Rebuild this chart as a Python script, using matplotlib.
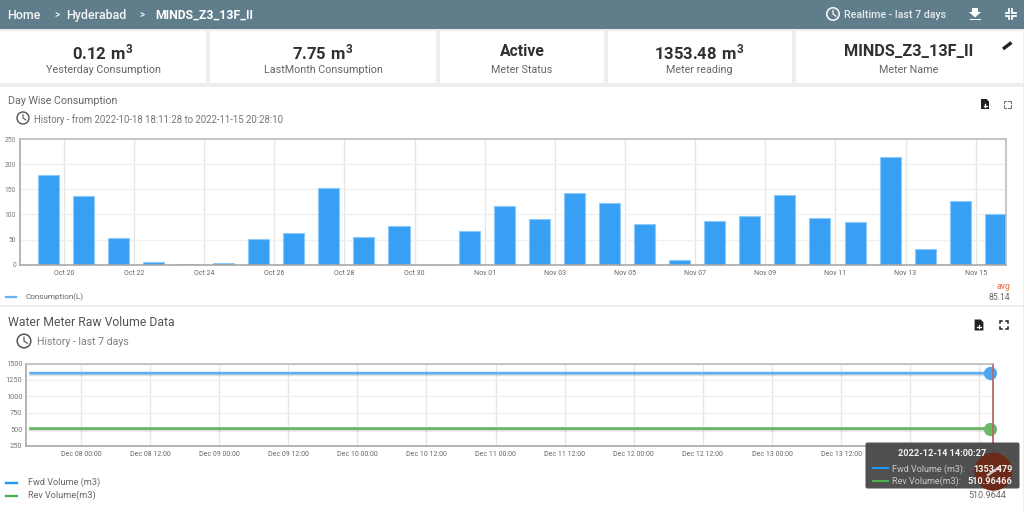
import matplotlib
matplotlib.use("Agg")
import matplotlib.pyplot as plt
import matplotlib.dates as mdates
import matplotlib.patheffects as pe
from matplotlib.patches import Rectangle, Circle, FancyBboxPatch, Polygon
import pandas as pd

plt.rcParams['font.family'] = ['Roboto', 'DejaVu Sans']
plt.rcParams['mathtext.fontset'] = 'custom'
plt.rcParams['mathtext.bf'] = 'Roboto:bold'
plt.rcParams['mathtext.rm'] = 'Roboto'

# ---------- data ----------
crumbs = ["Home", ">", "Hyderabad", ">", "MINDS_Z3_13F_II"]
card_values = [r"$\mathbf{0.12\ m^3}$", r"$\mathbf{7.75\ m^3}$", "Active",
               r"$\mathbf{1353.48\ m^3}$", "MINDS_Z3_13F_II"]
card_labels = ["Yesterday Consumption", "LastMonth Consumption", "Meter Status",
               "Meter reading", "Meter Name"]

day_dates = ["2022-10-19", "2022-10-20", "2022-10-21", "2022-10-22", "2022-10-23", "2022-10-24", "2022-10-25",
             "2022-10-26", "2022-10-27", "2022-10-28", "2022-10-29", "2022-10-30", "2022-10-31", "2022-11-01",
             "2022-11-02", "2022-11-03", "2022-11-04", "2022-11-05", "2022-11-06", "2022-11-07", "2022-11-08",
             "2022-11-09", "2022-11-10", "2022-11-11", "2022-11-12", "2022-11-13", "2022-11-14", "2022-11-15"]
consumption = [179, 137, 54, 5, 1.5, 4, 52, 63, 152, 56, 77, 0, 68, 117,
               91, 143, 122, 81, 10, 86, 96, 139, 93, 84, 214, 32, 127, 101]
day_ticks = ["2022-10-20", "2022-10-22", "2022-10-24", "2022-10-26", "2022-10-28", "2022-10-30", "2022-11-01",
             "2022-11-03", "2022-11-05", "2022-11-07", "2022-11-09", "2022-11-11", "2022-11-13", "2022-11-15"]

raw_times = ["2022-12-07 15:00", "2022-12-09 00:00", "2022-12-11 00:00", "2022-12-13 00:00", "2022-12-14 13:50"]
fwd_volume = [1353.1, 1353.2, 1353.3, 1353.4, 1353.479]
rev_volume = [510.96, 510.96, 510.96, 510.96, 510.96466]
raw_ticks = pd.date_range("2022-12-08 00:00", "2022-12-14 12:00", freq="12h")

W, H = 1024, 512
fig = plt.figure(figsize=(W / 100, H / 100), dpi=100, facecolor="#eeeeee")

def px_axes(x0, y_top, x1, y_bot, **kw):
    return fig.add_axes([x0 / W, 1 - y_bot / H, (x1 - x0) / W, (y_bot - y_top) / H], **kw)

# background layer / overlay layer in pixel coordinates
bg = px_axes(0, 0, W, H, zorder=0)
fg = px_axes(0, 0, W, H, zorder=5)
for a in (bg, fg):
    a.set_xlim(0, W); a.set_ylim(H, 0); a.axis("off")
fg.patch.set_alpha(0)

def rect(a, x0, y0, x1, y1, c, **kw):
    a.add_patch(Rectangle((x0, y0), x1 - x0, y1 - y0, fc=c, ec="none", **kw))

# header, cards, panels
rect(bg, 0, 0, W, 29, "#607d8b")
for x0, x1 in [(0, 206), (210, 436), (440, 604), (607.5, 792), (796, 1023)]:
    rect(bg, x0, 31, x1, 83, "white")
rect(bg, 0, 87, 1023, 305, "white")
rect(bg, 0, 307, 1023, H, "white")

def clock(a, cx, cy, r, c, lw=1.1):
    a.add_patch(Circle((cx, cy), r, fc="none", ec=c, lw=lw))
    a.plot([cx, cx, cx + r * .5], [cy - r * .6, cy, cy + r * .35], color=c, lw=lw * .8, solid_capstyle="round")

def txt(x, y, s, px, c="#555555", ha="left", w="normal", **kw):
    fg.text(x, y, s, fontsize=px * .72, color=c, ha=ha, va="center_baseline", fontweight=w, **kw)

# breadcrumbs
for x, s, px, wt in zip([7, 54, 66, 139, 155], crumbs, [12.5, 10, 12.5, 10, 12.3],
                        ["medium", "medium", "medium", "medium", "bold"]):
    txt(x, 14, s, px, "#f4f6f7" if wt != "bold" else "white", w=wt)
clock(fg, 833, 14, 6.2, "#f2f4f5", 1.2)
txt(844, 14, "Realtime - last 7 days", 10.6, "#e6eaec", w="medium")
# download icon
fg.add_patch(Polygon([[972, 8], [978, 8], [978, 12], [981, 12], [975, 17.5], [969, 12], [972, 12]], fc="white", ec="none"))
rect(fg, 969.5, 18.5, 980.5, 20, "white")
# fullscreen-exit icon
for sx, sy in [(-1, -1), (1, -1), (-1, 1), (1, 1)]:
    cx, cy = 1010.5 + sx * 1.5, 14 + sy * 1.5
    fg.plot([cx + sx * 3.5, cx, cx], [cy, cy, cy + sy * 3.5], color="white", lw=1.3, solid_joinstyle="miter")

# cards
for cx, s, lab, px in zip([103, 323, 522, 699, 908.5], card_values, card_labels, [16.6, 16.6, 15.8, 16.6, 16.2]):
    txt(cx, 50.5, s, px, "#303030", ha="center", w="bold")
    txt(cx, 69, lab, 10.8, "#666666", ha="center")
# pencil
fg.plot([1003, 1011.5], [49, 42.5], color="#222222", lw=2.4, solid_capstyle="butt")

# titles
txt(8, 100.5, "Day Wise Consumption", 10.6, "#666666")
clock(fg, 23, 118, 6, "#555555", 1.0)
txt(34, 118.5, "History - from 2022-10-18 18:11:28 to 2022-11-15 20:28:10", 9.6, "#777777")
txt(8, 321.5, "Water Meter Raw Volume Data", 12.3, "#555555")
clock(fg, 24, 341, 6.8, "#555555", 1.1)
txt(37, 341, "History - last 7 days", 10.5, "#808080")

def save_icon(cx, cy, s):
    fg.add_patch(Polygon([[cx - 4 * s, cy - 5 * s], [cx + 1.5 * s, cy - 5 * s], [cx + 4 * s, cy - 2.5 * s],
                          [cx + 4 * s, cy + 5 * s], [cx - 4 * s, cy + 5 * s]], fc="#222222", ec="none"))
    fg.plot([cx - 1.5 * s, cx + 1.5 * s], [cy + 1.5 * s, cy + 1.5 * s], color="white", lw=.9)
    fg.plot([cx, cx], [cy, cy + 3 * s], color="white", lw=.9)

def focus_icon(cx, cy, r, c, lw):
    for sx, sy in [(-1, -1), (1, -1), (-1, 1), (1, 1)]:
        fg.plot([cx + sx * r * .4, cx + sx * r, cx + sx * r], [cy + sy * r, cy + sy * r, cy + sy * r * .4], color=c, lw=lw,
                solid_joinstyle="miter")

save_icon(985, 104, 1)
focus_icon(1007, 104, 3.5, "#777777", .8)
save_icon(979, 325, 1.1)
focus_icon(1004, 325, 4, "#222222", 1.1)

# ---------- chart 1 ----------
def style(ax, ysize, xsize):
    ax.set_axisbelow(True)
    ax.grid(axis="x", color="#e6e6e6", lw=1)
    ax.grid(axis="y", color="#f0f0f0", lw=1)
    ax.tick_params(length=0)
    ax.tick_params(axis="y", labelsize=ysize, labelcolor="#777777", pad=2.8)
    ax.tick_params(axis="x", labelsize=xsize, labelcolor="#666666", pad=3.8)
    for k, s in ax.spines.items():
        s.set_color("#a8a8a8" if k in ("left", "bottom") else "#bdbdbd")
        s.set_linewidth(1.2)

ax1 = px_axes(20, 139, 1006, 264.7, zorder=2)
d = pd.to_datetime(day_dates) + pd.Timedelta(hours=13.4)
ax1.bar(d, consumption, width=0.6, color="#2196f3", alpha=.9, edgecolor="#8ccafa", linewidth=.8)
ax1.set_xlim(mdates.date2num(pd.Timestamp("2022-10-20")) - (63.7 - 20) / 35.08,
             mdates.date2num(pd.Timestamp("2022-10-20")) + (1006 - 63.7) / 35.08)
ax1.set_ylim(0, 250)
ax1.set_yticks([0, 50, 100, 150, 200, 250])
ax1.set_xticks(pd.to_datetime(day_ticks))
ax1.xaxis.set_major_formatter(mdates.DateFormatter("%b %d"))
style(ax1, 4.8, 5.0)

fg.plot([6, 16], [296.5, 296.5], color="#64b5f6", lw=1.6)
txt(26, 296.5, "Consumption(L)", 8.2, "#666666")
txt(1010.5, 285.5, "avg", 8.6, "#f4775a", ha="right", w="medium")
txt(1010.5, 296.5, "85.14", 8.6, "#666666", ha="right")

# ---------- chart 2 ----------
ax2 = px_axes(26.3, 363.5, 993, 445.7, zorder=2)
t = pd.to_datetime(raw_times)
shadow = [pe.SimpleLineShadow(offset=(0, -1.2), shadow_color="#555555", alpha=.18), pe.Normal()]
ax2.plot(t, fwd_volume, color="#5aaef3", lw=1.9, path_effects=shadow, clip_on=False, solid_capstyle="butt")
ax2.plot(t, rev_volume, color="#63b560", lw=1.9, path_effects=shadow, clip_on=False, solid_capstyle="butt")
ax2.plot(t[-1:], fwd_volume[-1:], "o", ms=8.5, color="#4fa6f0", clip_on=False)
ax2.plot(t[-1:], rev_volume[-1:], "o", ms=8.5, color="#6cb869", clip_on=False)
x0 = mdates.date2num(pd.Timestamp("2022-12-08"))
ax2.set_xlim(x0 - (81 - 26.3) / 138.2, x0 + (993 - 81) / 138.2)
ax2.set_ylim(250, 1500)
ax2.set_yticks([250, 500, 750, 1000, 1250, 1500])
ax2.set_xticks(raw_ticks)
ax2.xaxis.set_major_formatter(mdates.DateFormatter("%b %d %H:%M"))
style(ax2, 5.3, 5.0)
ax2.spines["right"].set_color("#b56a66")
ax2.spines["right"].set_linewidth(1.3)

fg.plot([6, 17], [482.5, 482.5], color="#2196f3", lw=1.7)
fg.plot([6, 17], [496, 496], color="#4caf50", lw=1.7)
txt(27.5, 481, "Fwd Volume (m3)", 9.1, "#666666")
txt(27.5, 494.5, "Rev Volume(m3)", 9.1, "#666666")
txt(1006, 494.5, "510.9644", 9.0, "#666666", ha="right")
txt(1006, 481, "1353.479", 9.0, "#666666", ha="right", zorder=1)

# tooltip
fg.add_patch(FancyBboxPatch((865.5, 442.5), 154, 46, boxstyle="round,pad=0,rounding_size=2", fc="#4a4a4a", ec="none",
                            alpha=.97, zorder=3))
fg.add_patch(Circle((993.3, 471.7), 19, fc="#6b2a17", ec="none", zorder=4))
fg.plot([988, 998], [475, 468], color="#c8c0bc", lw=1.8, zorder=4)
fg.text(942.5, 453, "2022-12-14 14:00:27", fontsize=6.6, color="#f2f2f2", ha="center", va="center_baseline", fontweight="bold", zorder=5)
fg.plot([872.5, 887.5], [468, 468], color="#2196f3", lw=1.5, zorder=5)
fg.plot([872.5, 887.5], [480.5, 480.5], color="#4caf50", lw=1.5, zorder=5)
fg.text(892, 468, "Fwd Volume (m3):", fontsize=6.5, color="#c9c9c9", va="center_baseline", zorder=5)
fg.text(892, 480.5, "Rev Volume(m3):", fontsize=6.5, color="#c9c9c9", va="center_baseline", zorder=5)
fg.text(1012.5, 468, "1353.479", fontsize=6.6, color="#f2f2f2", ha="right", va="center_baseline", fontweight="bold", zorder=5)
fg.text(1012.5, 480.5, "510.96466", fontsize=6.6, color="#f2f2f2", ha="right", va="center_baseline", fontweight="bold", zorder=5)

fig.savefig("out.png", dpi=100, facecolor=fig.get_facecolor())
